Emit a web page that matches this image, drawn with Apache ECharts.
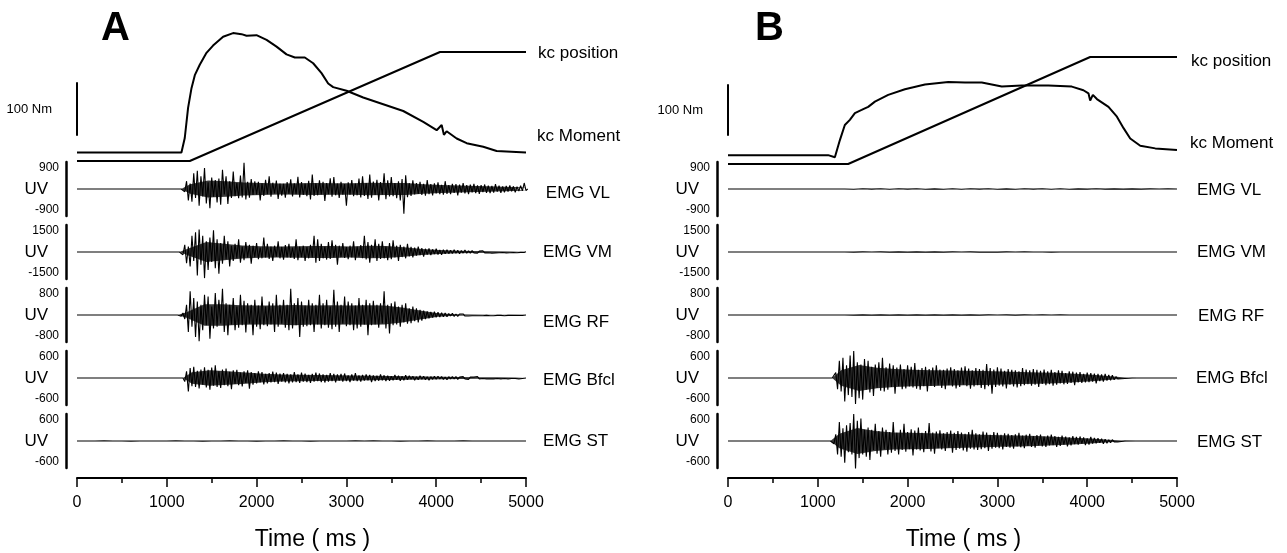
<!DOCTYPE html>
<html><head><meta charset="utf-8">
<script src="https://cdn.jsdelivr.net/npm/echarts@6/dist/echarts.min.js"></script>
<style>html,body{margin:0;padding:0;background:#fff}#c{width:1287px;height:553px}</style>
</head><body><div id="c"></div>
<script>
// ---------------- DATA ----------------
const panelTitles = ['A', 'B'];
const timeTicks = [0, 1000, 2000, 3000, 4000, 5000];
const scaleBarNm = 100;
const emgNames = ['EMG VL', 'EMG VM', 'EMG RF', 'EMG Bfcl', 'EMG ST'];
const emgRanges = [900, 1500, 800, 600, 600];

// knee moment (Nm) and position, panel A
const momentA_t = [0,1163,1200,1237,1275,1312,1367,1442,1515,1627,1738,1832,1888,1999,2111,2222,2333,2426,2537,2630,2723,2797,2853,3002,3187,3410,3633,3856,4005,4061,4086,4116,4228,4339,4524,4673,5000];
const momentA_v = [24,24,52,110,148,173,193,216,230,247,254,252,249,250,241,228,213,207,207,196,177,157,150,143,130,117,104,83,67,77,58,65,51,42,35,27,24];
const positionA_t = [0,1256,4042,5000];
const positionA_v = [0,0,109,109];
// panel B
const momentB_t = [0,1115,1190,1246,1301,1357,1413,1488,1561,1636,1784,1970,2193,2453,2639,2826,3049,3272,3568,3829,3958,4014,4033,4063,4108,4237,4331,4405,4479,4591,4758,5000];
const momentB_v = [19,19,15,48,77,87,100,106,112,122,135,146,155,160,159,159,151,153,153,151,144,138,124,135,127,112,93,71,51,37,32,29];
const positionB_t = [0,1338,4033,5000];
const positionB_v = [-3,-3,104,104];

// EMG (uV): onset time (ms), sample step (ms), spike values; core = dense band half-width every 200 ms
const emgStep = 20;
const coreStep = 200;
const flatStep = 100;
const vlA_onset = 1160;
const vlA = [30,-90,260,-380,180,-420,520,-300,610,-560,
420,-250,700,-480,220,-640,380,-260,300,-450,
350,-520,640,-180,420,-500,260,-300,580,-240,
200,-310,450,-280,870,-350,240,-290,330,-200,
260,-180,240,-380,190,-230,310,-170,420,-260,
210,-150,280,-330,180,-220,170,-290,230,-160,
320,-250,190,-170,410,-280,230,-200,180,-240,
270,-350,480,-230,190,-210,290,-180,240,-400,
200,-170,360,-260,400,-210,180,-300,240,-190,
160,-560,220,-190,300,-240,180,-210,350,-280,
420,-230,200,-330,480,-290,250,-200,310,-380,
230,-190,520,-340,290,-250,400,-240,200,-310,
260,-380,330,-820,460,-270,200,-230,290,-180,
200,-160,240,-200,170,-220,300,-170,160,-210,
190,-150,220,-170,140,-190,260,-160,130,-170,
170,-130,160,-210,150,-120,200,-150,130,-170,
150,-110,170,-140,120,-160,130,-100,150,-130,
110,-140,100,-120,160,-90,110,-130,90,-110,
100,-90,120,-80,90,-110,80,-70,110,-60,
200,-50,0];
const vlA_core = [160,280,260,220,200,180,190,200,190,190,210,200,200,160,130,115,100,85,70,50];
const vmA_onset = 1140;
const vmA = [50,-150,400,-620,300,-800,900,-500,1100,-1300,
1250,-700,900,-1450,600,-1000,800,-550,1200,-900,
700,-1200,500,-650,900,-400,600,-800,350,-500,
450,-350,700,-600,300,-450,550,-300,400,-650,
350,-280,500,-400,250,-350,800,-300,450,-380,
300,-500,350,-260,600,-350,280,-420,380,-300,
450,-320,250,-380,700,-450,300,-280,350,-500,
280,-350,400,-300,900,-600,700,-500,450,-350,
300,-420,550,-380,650,-300,400,-700,350,-280,
500,-330,280,-400,350,-300,600,-450,300,-260,
380,-350,900,-420,550,-600,400,-300,700,-500,
450,-380,600,-350,300,-450,500,-400,650,-300,
350,-500,400,-280,300,-350,450,-250,280,-300,
250,-200,300,-180,220,-260,180,-150,200,-170,
150,-120,180,-140,110,-160,130,-100,120,-90,
100,-80,120,-70,90,-100,80,-60,110,-70,
70,-60,80,-50,60,-70,50,-40,70,-50,
60,-40,50,-60,40,-50,60,-40,50,-30,
40,-50,30,-40,50,-30,40,-40,30,-20,
60,-20,10];
const vmA_core = [200,550,460,360,320,310,320,340,330,310,350,330,270,170,110,70,50,35,28,15];
const rfA_onset = 1120;
const rfA = [20,-40,60,-120,300,-500,700,-350,500,-650,
400,-780,300,-450,600,-300,550,-700,250,-400,
650,-350,450,-250,780,-500,350,-600,300,-280,
500,-450,250,-380,600,-300,420,-520,350,-250,
300,-600,450,-350,280,-420,550,-300,250,-330,
400,-280,350,-500,600,-350,300,-260,450,-380,
300,-450,780,-400,350,-300,500,-650,400,-350,
280,-330,450,-300,350,-500,300,-280,600,-400,
350,-300,450,-380,250,-420,750,-350,400,-500,
300,-260,550,-330,400,-300,350,-450,280,-400,
500,-350,300,-280,450,-600,350,-300,420,-280,
300,-380,350,-250,700,-400,300,-550,350,-300,
400,-280,250,-350,300,-220,350,-260,200,-240,
250,-180,200,-220,150,-170,130,-120,110,-100,
90,-80,100,-70,80,-60,70,-50,60,-50,
40,-30,50,-40,30,-40,30,-20,30,-30,
20,-30,20,-20,30,-20,20,-20,20,-20,
20,-10,20,-20,10,-20,20,-10,20,-10,
10,-20,10,-10,20,-10,10,-10,20,-10,
10,-10,10,0];
const rfA_core = [80,320,320,290,280,280,300,280,290,280,290,280,220,130,55,22,12,10,9,5];
const bfA_onset = 1180;
const bfA = [-80,150,-300,220,-180,250,-200,160,-230,190,
-150,240,-210,180,-260,230,-170,280,-200,150,
-220,190,-160,210,-180,140,-250,170,-130,180,
-160,120,-190,150,-110,170,-240,130,-150,110,
-120,150,-100,130,-140,90,-120,110,-100,140,
-90,120,-130,100,-80,110,-100,90,-120,80,
-100,130,-90,80,-110,120,-80,100,-90,70,
-110,90,-80,120,-70,100,-90,80,-100,70,
-80,110,-70,90,-100,80,-60,90,-80,100,
-70,60,-90,80,-60,110,-70,60,-80,70,
-60,80,-50,70,-90,60,-70,50,-60,80,
-50,60,-70,50,-60,40,-50,70,-40,50,
-60,40,-50,60,-40,50,-30,40,-50,30,
-40,50,-30,40,-40,30,-50,30,-30,40,
-30,40,-20,30,-30,20,-40,30,-20,30,
-20,30,-30,20,-20,30,-20,20,-30,20,
-20,20,-20,30,-20,20,-10,20,-20,20,
-20,10,-20,20,-10,20,-20,10,-10,20,
-20,10,-10,20,-10,10,-20,10,-10,10,0];
const bfA_core = [130,170,150,125,95,80,72,66,60,55,50,45,40,35,30,24,18,14,11,6];
const stA = [0,1,-1,2,-1,1,-2,1,-1,1,-1,2,-1,1,-2,1,-1,2,-1,1,-2,1,-1,2,-1,1,-2,1,-1,1,-1,2,-1,2,-1,1,-2,1,-1,2,-1,1,-1,2,-1,1,-1,1,-1,1,0];

const vlB = [0,1,-1,2,-1,1,-1,1,-1,2,-1,1,-1,2,-6,8,-5,7,-9,6,-5,8,-6,5,-7,6,-8,9,-5,6,-7,5,-8,6,-5,7,-6,8,-6,5,-4,6,-3,5,-5,4,-3,4,-2,3,0];
const vmB = [0,1,-1,2,-1,1,-1,1,-2,1,-1,2,-1,2,-5,6,-4,6,-7,5,-6,7,-5,6,-6,5,-4,7,-5,4,-6,5,-4,5,-4,4,-5,4,-3,4,-4,3,-3,4,-2,3,-2,2,-2,2,0];
const rfB = [0,1,-1,1,-1,1,-1,1,-1,1,-1,1,-1,1,-3,4,-3,4,-4,3,-4,3,-3,4,-3,3,-4,3,-3,3,-2,3,-3,3,-2,3,-2,3,-2,2,-2,2,-2,2,-1,2,-2,1,-1,1,0];
const bfB_onset = 1160;
const bfB = [-40,120,-250,380,-300,450,-520,280,-380,500,
-420,600,-580,350,-450,300,-480,420,-260,380,
-320,250,-400,300,-220,350,-280,450,-300,240,
-260,320,-200,280,-350,230,-180,300,-250,200,
-230,280,-190,250,-210,330,-240,180,-260,220,
-180,250,-300,200,-170,230,-200,280,-160,190,
-220,180,-250,210,-160,240,-190,200,-230,170,
-200,230,-150,260,-180,210,-240,170,-190,220,
-160,200,-220,180,-250,310,-180,220,-350,190,
-200,240,-170,210,-190,160,-230,200,-150,180,
-190,170,-210,150,-180,220,-160,190,-140,170,
-170,200,-150,180,-200,160,-130,190,-160,150,
-140,180,-170,130,-150,170,-120,160,-140,110,
-130,150,-110,140,-160,120,-100,130,-110,90,
-100,120,-90,110,-80,100,-120,90,-70,80,
-80,90,-60,70,-50,60,-40,30,-20,20,
-15,10,-10,10,-5,5,0];
const bfB_core = [170,290,230,200,185,175,165,160,155,145,135,125,115,95,70,40,5];
const stB_onset = 1140;
const stB = [30,-60,150,-300,420,-350,280,-480,350,-250,
400,-300,600,-620,450,-380,500,-300,250,-350,
300,-420,250,-200,380,-280,220,-350,300,-180,
250,-300,200,-260,420,-220,180,-300,250,-200,
380,-240,200,-180,260,-320,230,-190,300,-210,
180,-250,220,-170,400,-230,190,-280,210,-160,
240,-190,170,-220,200,-150,230,-260,180,-200,
220,-170,190,-210,160,-240,200,-170,250,-190,
170,-200,150,-180,210,-160,190,-220,140,-170,
200,-150,180,-160,140,-190,170,-130,160,-150,
130,-170,150,-120,180,-140,120,-160,140,-110,
160,-130,110,-150,130,-100,140,-120,100,-130,
120,-100,140,-90,110,-130,90,-110,120,-80,
100,-120,80,-100,110,-70,90,-80,100,-60,
80,-90,60,-80,90,-60,70,-50,60,-40,
50,-60,40,-50,30,-40,30,-20,20,-20,
10,-10,5,0];
const stB_core = [160,290,220,190,185,175,160,150,140,130,120,110,95,75,55,28,5];

// ---------------- LAYOUT / STYLE ----------------
const FONT = '"Liberation Sans", Arial, Helvetica, sans-serif';
const panelLeft = [77, 728];
const plotWidth = 449;
const topGrid = {top: 30, height: 135};
const scaleGrid = [{top: 83, height: 52}, {top: 85, height: 50}];
const emgTop = [162, 225, 288, 351, 414];
const emgHeight = 54;
const labelDist = [[12, 11, 18, 17, 17, 17, 17], [14, 13, 20, 20, 21, 19, 20]];
const labelDy = [[1, -16, 4, 0, 7, 2, 0], [4, -7, 1, 0, 1, 0, 1]];

const panels = [
  {mT: momentA_t, mV: momentA_v, pT: positionA_t, pV: positionA_v,
   emg: [[vlA_onset, emgStep, vlA, vlA_core], [vmA_onset, emgStep, vmA, vmA_core], [rfA_onset, emgStep, rfA, rfA_core],
         [bfA_onset, emgStep, bfA, bfA_core], [0, flatStep, stA, null]]},
  {mT: momentB_t, mV: momentB_v, pT: positionB_t, pV: positionB_v,
   emg: [[0, flatStep, vlB, null], [0, flatStep, vmB, null], [0, flatStep, rfB, null],
         [bfB_onset, emgStep, bfB, bfB_core], [stB_onset, emgStep, stB, stB_core]]}
];

function pairs(ts, vs) { return ts.map((t, i) => [t, vs[i]]); }
function emgData(onset, step, vals) {
  const d = [[0, 0]];
  if (onset > 0) d.push([onset, 0]);
  vals.forEach((v, i) => d.push([onset + (onset > 0 ? i + 1 : i) * step, v]));
  if (d[d.length - 1][0] < 5000) d.push([5000, 0]);
  return d;
}
function coreData(onset, vals, sign) {
  const d = [[onset, 0]];
  vals.forEach((v, i) => d.push([Math.min(5000, onset + (i + 0.5) * coreStep), sign * v]));
  d.push([Math.min(5000, onset + vals.length * coreStep), 0]);
  return d;
}
function endLabel(text, dist, dy) {
  return {show: true, formatter: text, distance: dist, offset: [0, dy], color: '#000',
          fontSize: 17, fontFamily: FONT};
}

const grids = [], xAxes = [], yAxes = [], series = [];
function addGrid(g) { grids.push(Object.assign({outerBoundsMode: 'none', containLabel: false}, g)); return grids.length - 1; }
function hiddenX(gi) { xAxes.push({gridIndex: gi, type: 'value', min: 0, max: 5000, show: false}); return xAxes.length - 1; }

panels.forEach((P, p) => {
  const L = panelLeft[p];
  const gT = addGrid({left: L, width: plotWidth, top: topGrid.top, height: topGrid.height});
  const xT = hiddenX(gT);
  yAxes.push({gridIndex: gT, type: 'value', min: 0, max: 260, show: false});
  const yM = yAxes.length - 1;
  yAxes.push({gridIndex: gT, type: 'value', min: -4, max: 131, show: false});
  const yP = yAxes.length - 1;
  series.push({type: 'line', name: 'kc position', xAxisIndex: xT, yAxisIndex: yP, data: pairs(P.pT, P.pV),
    showSymbol: false, lineStyle: {color: '#000', width: 2}, endLabel: endLabel('kc position', labelDist[p][0], labelDy[p][0])});
  series.push({type: 'line', name: 'kc Moment', xAxisIndex: xT, yAxisIndex: yM, data: pairs(P.mT, P.mV),
    showSymbol: false, lineStyle: {color: '#000', width: 2}, endLabel: endLabel('kc Moment', labelDist[p][1], labelDy[p][1])});
  const gS = addGrid({left: L, width: plotWidth, top: scaleGrid[p].top, height: scaleGrid[p].height});
  hiddenX(gS);
  yAxes.push({gridIndex: gS, type: 'value', min: 0, max: scaleBarNm, interval: scaleBarNm, offset: 12,
    axisLine: {show: true, lineStyle: {color: '#000', width: 2}}, axisTick: {show: false},
    axisLabel: {show: false}, splitLine: {show: false},
    name: scaleBarNm + ' Nm', nameLocation: 'middle', nameRotate: 0, nameGap: 13, nameMoveOverlap: false,
    nameTextStyle: {fontSize: 13, color: '#000', fontFamily: FONT}});
  P.emg.forEach((e, k) => {
    const s = emgRanges[k];
    const gE = addGrid({left: L, width: plotWidth, top: emgTop[k], height: emgHeight});
    let xi;
    if (k === 4) {
      xAxes.push({gridIndex: gE, type: 'value', min: 0, max: 5000, interval: 1000, offset: 10,
        axisLine: {show: true, onZero: false, lineStyle: {color: '#000', width: 2}},
        axisTick: {show: true, length: 9, lineStyle: {color: '#000', width: 1.5}},
        minorTick: {show: true, splitNumber: 2, length: 5, lineStyle: {color: '#000', width: 1.5}},
        axisLabel: {show: true, margin: 17, fontSize: 16, color: '#000', fontFamily: FONT,
          formatter: v => (timeTicks.indexOf(v) >= 0 ? String(v) : '')},
        splitLine: {show: false},
        name: 'Time ( ms )', nameLocation: 'middle', nameGap: 50, nameMoveOverlap: false,
        nameTextStyle: {fontSize: 23, color: '#000', fontFamily: FONT, padding: [0, 0, 0, 22]}});
      xi = xAxes.length - 1;
    } else {
      xi = hiddenX(gE);
    }
    yAxes.push({gridIndex: gE, type: 'value', min: -s, max: s, interval: s, offset: 11,
      axisLine: {show: true, onZero: false, lineStyle: {color: '#000', width: 2.5}},
      axisTick: {show: false}, splitLine: {show: false},
      axisLabel: {show: true, margin: 7, fontSize: 12, color: '#000', fontFamily: FONT,
        formatter: v => (v === 0 ? '' : String(v)),
        verticalAlignMaxLabel: 'top', verticalAlignMinLabel: 'bottom'},
      name: 'UV', nameLocation: 'middle', nameRotate: 0, nameGap: 18, nameMoveOverlap: false,
      nameTextStyle: {fontSize: 17, color: '#000', fontFamily: FONT}});
    const yi = yAxes.length - 1;
    if (e[3]) {
      [1, -1].forEach(sg => series.push({type: 'line', xAxisIndex: xi, yAxisIndex: yi, silent: true,
        data: coreData(e[0], e[3], sg), showSymbol: false, lineStyle: {width: 0},
        areaStyle: {color: '#000', opacity: 0.78, origin: 'auto'}, z: 1}));
    }
    series.push({type: 'line', name: emgNames[k], xAxisIndex: xi, yAxisIndex: yi,
      data: emgData(e[0], e[1], e[2]), showSymbol: false,
      lineStyle: {color: '#000', width: 1.1}, z: 2,
      endLabel: endLabel(emgNames[k], labelDist[p][2 + k], labelDy[p][2 + k])});
  });
});

const chart = echarts.init(document.getElementById('c'), null, {renderer: 'canvas'});
chart.setOption({
  backgroundColor: '#fff',
  animation: false,
  title: [
    {text: panelTitles[0], left: 101, top: 9, padding: 0, textStyle: {fontSize: 40, fontWeight: 'bold', color: '#000', fontFamily: FONT}},
    {text: panelTitles[1], left: 755, top: 9, padding: 0, textStyle: {fontSize: 40, fontWeight: 'bold', color: '#000', fontFamily: FONT}}
  ],
  grid: grids, xAxis: xAxes, yAxis: yAxes, series: series
});
</script>
</body></html>
